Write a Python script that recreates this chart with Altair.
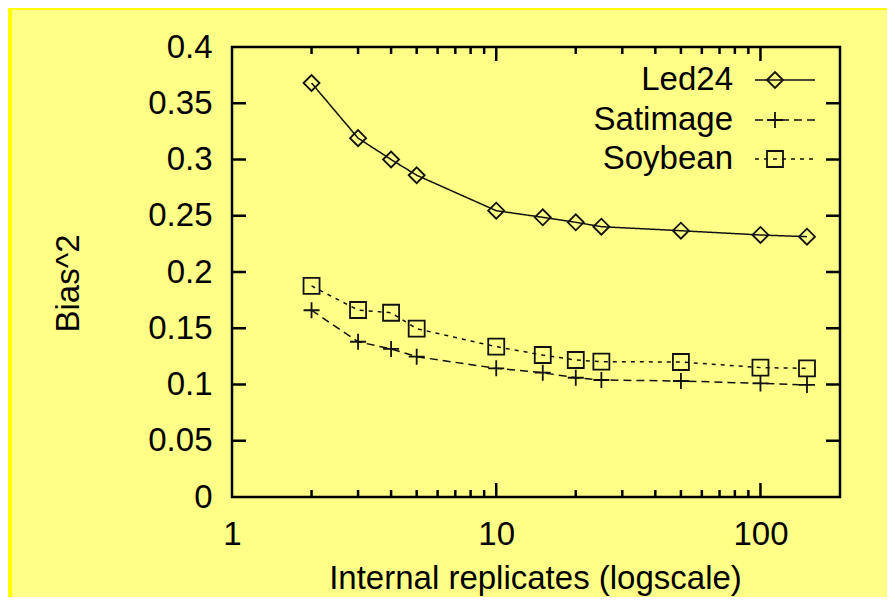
import altair as alt
import pandas as pd

# ---- data ----
reps = [2, 3, 4, 5, 10, 15, 20, 25, 50, 100, 150]
led24 = [0.368, 0.319, 0.300, 0.286, 0.2545, 0.2486, 0.2442, 0.2403, 0.2367, 0.2329, 0.2314]
satimage = [0.166, 0.138, 0.1316, 0.1247, 0.1144, 0.1105, 0.106, 0.104, 0.1031, 0.1010, 0.0996]
soybean = [0.1876, 0.1662, 0.1638, 0.1496, 0.1336, 0.1262, 0.1218, 0.1203, 0.1200, 0.1150, 0.1144]
series_names = ["Led24", "Satimage", "Soybean"]
x_major = [1, 10, 100]
x_minor = [2, 3, 4, 5, 6, 7, 8, 9, 20, 30, 40, 50, 60, 70, 80, 90]
y_ticks = [0, 0.05, 0.1, 0.15, 0.2, 0.25, 0.3, 0.35, 0.4]

rows = []
for name, vals in zip(series_names, [led24, satimage, soybean]):
    for r, v in zip(reps, vals):
        rows.append({"reps": r, "value": v, "series": name})
df = pd.DataFrame(rows)

W, H = 608, 450
TOTAL_W, TOTAL_H = 879, 589
PAD_L, PAD_T = 224, 39
INK = "#111111"
FONT = "Liberation Sans"
FS = 33

xscale = alt.Scale(type="log", domain=[1, 200], nice=False)
yscale = alt.Scale(domain=[0, 0.4], nice=False, zero=False)
dash_scale = alt.Scale(domain=series_names, range=[[1, 0], [8, 5], [4, 5]])
shape_scale = alt.Scale(domain=series_names,
                        range=["diamond", "M-1,0L1,0M0,-1L0,1", "square"])

x_enc = alt.X("reps:Q", scale=xscale,
              axis=alt.Axis(values=x_major, format="d",
                            title="Internal replicates (logscale)",
                            labelPadding=21, labelFlush=False, labelOverlap=False,
                            titleX=303, titleY=91, titleBaseline="alphabetic",
                            titleAlign="center"))
y_enc = alt.Y("value:Q", scale=yscale,
              axis=alt.Axis(values=y_ticks, format="~g", title="Bias^2",
                            labelPadding=20, labelFlush=False, labelOverlap=False,
                            titleX=-154, titleY=236, titleAngle=270,
                            titleBaseline="alphabetic", titleAlign="center"))

lines = alt.Chart(df).mark_line(color=INK, strokeWidth=1.5).encode(
    x=x_enc, y=y_enc,
    strokeDash=alt.StrokeDash("series:N", scale=dash_scale, legend=None),
)
points = alt.Chart(df).mark_point(filled=False, color=INK, strokeWidth=1.8,
                                  size=256, opacity=1).encode(
    x=alt.X("reps:Q", scale=xscale),
    y=alt.Y("value:Q", scale=yscale),
    shape=alt.Shape("series:N", scale=shape_scale, legend=None),
)

# inward ticks (gnuplot style), on all four sides
yt_df = pd.DataFrame({"value": y_ticks[1:-1]})
ytick_l = alt.Chart(yt_df).mark_rule(color="black", strokeWidth=2.5).encode(
    y=alt.Y("value:Q", scale=yscale), x=alt.value(0), x2=alt.value(14))
ytick_r = alt.Chart(yt_df).mark_rule(color="black", strokeWidth=2.5).encode(
    y=alt.Y("value:Q", scale=yscale), x=alt.value(W), x2=alt.value(W - 14))

xmaj_df = pd.DataFrame({"reps": x_major[1:]})
xmin_df = pd.DataFrame({"reps": x_minor})
xtick_layers = []
for d, ln in [(xmaj_df, 14), (xmin_df, 7)]:
    xtick_layers.append(alt.Chart(d).mark_rule(color="black", strokeWidth=2.5).encode(
        x=alt.X("reps:Q", scale=xscale), y=alt.value(H), y2=alt.value(H - ln)))
    xtick_layers.append(alt.Chart(d).mark_rule(color="black", strokeWidth=2.5).encode(
        x=alt.X("reps:Q", scale=xscale), y=alt.value(0), y2=alt.value(ln)))

# key (gnuplot style: label on the left, sample on the right)
key_rows = [33, 73, 112]
key_layers = []
for name, ky in zip(series_names, key_rows):
    kd = pd.DataFrame({"series": [name]})
    key_layers.append(alt.Chart(kd).mark_rule(color=INK, strokeWidth=1.5).encode(
        x=alt.value(523), x2=alt.value(583), y=alt.value(ky),
        strokeDash=alt.StrokeDash("series:N", scale=dash_scale, legend=None)))
    key_layers.append(alt.Chart(kd).mark_point(filled=False, color=INK, strokeWidth=1.8,
                                               size=256, opacity=1).encode(
        x=alt.value(543), y=alt.value(ky),
        shape=alt.Shape("series:N", scale=shape_scale, legend=None)))
    key_layers.append(alt.Chart(kd).mark_text(align="right", baseline="middle",
                                              fontSize=FS, font=FONT,
                                              color="black").encode(
        x=alt.value(501), y=alt.value(ky), text="series:N"))

# bright-yellow slide edge along the top and left
dummy = pd.DataFrame({"k": [0]})
stripe_top = alt.Chart(dummy).mark_rect(color="#FFFF00").encode(
    x=alt.value(-PAD_L), x2=alt.value(TOTAL_W - PAD_L),
    y=alt.value(-PAD_T), y2=alt.value(-PAD_T + 2))
stripe_left = alt.Chart(dummy).mark_rect(color="#FFFF00").encode(
    x=alt.value(-PAD_L), x2=alt.value(-PAD_L + 4),
    y=alt.value(-PAD_T), y2=alt.value(TOTAL_H - PAD_T))

chart = alt.layer(
    lines, points, ytick_l, ytick_r, *xtick_layers, *key_layers, stripe_top, stripe_left
).properties(
    width=W, height=H,
    autosize=alt.AutoSizeParams(type="none"),
    padding={"left": PAD_L, "top": PAD_T,
             "right": TOTAL_W - PAD_L - W, "bottom": TOTAL_H - PAD_T - H},
    background="#FFFF88",
).configure_view(
    stroke="black", strokeWidth=2.5
).configure_axis(
    labelFont=FONT, labelFontSize=FS, labelColor="black",
    titleFont=FONT, titleFontSize=33, titleFontWeight="normal", titleColor="black",
    domain=False, ticks=False, tickSize=0, grid=False,
)

chart.save("out.html", embed_options={"renderer": "svg", "actions": False})
